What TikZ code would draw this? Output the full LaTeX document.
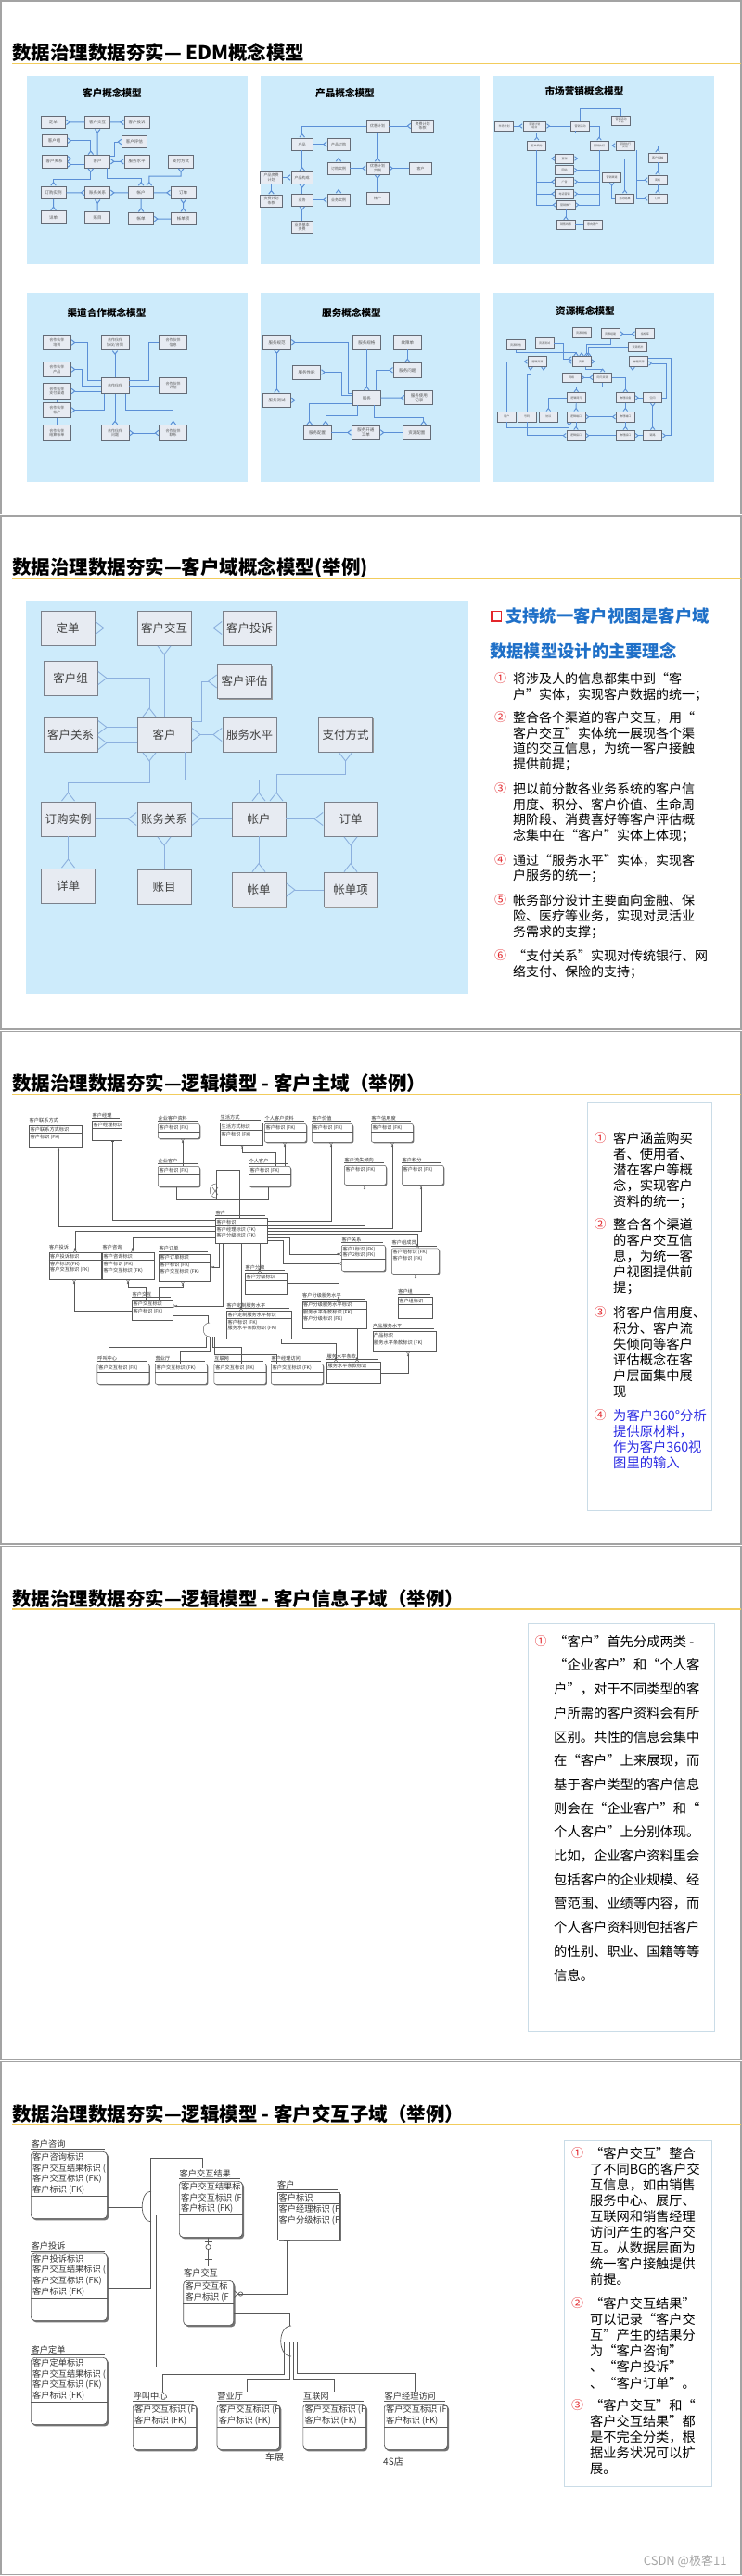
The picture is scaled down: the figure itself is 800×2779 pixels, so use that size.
\documentclass[tikz,border=0pt]{standalone}
\usepackage{fontspec}
\setmainfont{Noto Sans CJK SC}
\usetikzlibrary{arrows.meta,positioning,shadows}
\definecolor{panelblue}{HTML}{CDEBFB}
\definecolor{goldline}{HTML}{F2CC5C}
\definecolor{framegray}{HTML}{A3A3A3}
\definecolor{headblue}{HTML}{1F70C8}
\definecolor{numred}{HTML}{E3262B}
\definecolor{inkblue}{HTML}{2B2BE3}
\definecolor{boxfill}{HTML}{E7EBF2}
\definecolor{boxedge}{HTML}{646B76}
\definecolor{linkblue}{HTML}{5B8FD6}
\definecolor{softlink}{HTML}{8CB0DE}
\definecolor{noteedge}{HTML}{CADCE7}
\definecolor{ergray}{HTML}{585858}
\tikzset{
  slideframe/.style={draw=framegray, line width=1.5pt},
  slidetitle/.style={anchor=west, inner sep=0pt, font=\fontsize{20.5}{23}\selectfont\bfseries},
  goldrule/.style={draw=goldline, line width=1.2pt},
  paneltitle/.style={inner sep=0pt, font=\fontsize{10.6}{12}\selectfont\bfseries},
  mbox/.style={draw=boxedge, fill=boxfill, line width=0.7pt, inner sep=0.3pt, align=center, text=black!65, font=\fontsize{4}{4.4}\selectfont},
  bigbox/.style={draw=boxedge!85, fill=boxfill, line width=0.9pt, inner sep=1pt, text=black!75, font=\fontsize{12.5}{14}\selectfont, minimum width=58, minimum height=37, drop shadow={shadow xshift=1.2pt, shadow yshift=-1.2pt, fill=black!40, opacity=1}},
  note/.style={anchor=north west, align=left, inner sep=0pt, font=\fontsize{14}{16.8}\selectfont},
  num/.style={inner sep=0pt, text=numred, font=\fontsize{13}{14}\selectfont},
  notebox/.style={draw=noteedge, line width=0.8pt},
  entbox/.style={draw=ergray, fill=white, line width=0.5pt, inner sep=0pt, drop shadow={shadow xshift=1pt, shadow yshift=-1pt, fill=black!55, opacity=1}},
  entrow/.style={inner xsep=1.5pt, inner ysep=1.5pt, align=left, text=black!80, font=\fontsize{5.2}{6.6}\selectfont},
  entlab/.style={inner xsep=0.5pt, inner ysep=0.6pt, text=black!80, font=\fontsize{5.2}{6}\selectfont},
  entrule/.style={draw=ergray, line width=0.4pt},
  dep/.style={rounded corners=2pt},
  rel/.style={draw=ergray, line width=0.45pt},
  zm/.style={-{Circle[open,length=2.2pt,width=2.2pt]Straight Barb[reversed,length=2pt,width=3.4pt]}},
}
\newcommand\custmodel[1]{%
  \node[cbox] (#1dd) at (73,677.5) {定单};
  \node[cbox] (#1jh) at (177,677.5) {客户交互};
  \node[cbox] (#1ts) at (269,677.5) {客户投诉};
  \node[cbox] (#1kz) at (76,731.5) {客户组};
  \node[cbox] (#1pg) at (263.5,735) {客户评估};
  \node[cbox] (#1gx) at (76,792.5) {客户关系};
  \node[cbox] (#1kh) at (177,792.5) {客户};
  \node[cbox] (#1fw) at (269,792.5) {服务水平};
  \node[cbox] (#1zf) at (372.5,792.5) {支付方式};
  \node[cbox] (#1dg) at (73.5,883.5) {订购实例};
  \node[cbox] (#1zw) at (177,883.5) {账务关系};
  \node[cbox] (#1zh) at (279,883.5) {帐户};
  \node[cbox] (#1od) at (378,883.5) {订单};
  \node[cbox] (#1xd) at (73.5,955.5) {详单};
  \node[cbox] (#1zm) at (177,956.5) {账目};
  \node[cbox] (#1zd) at (279,960) {帐单};
  \node[cbox] (#1zx) at (378,960) {帐单项};
  \draw[<-] (#1dd) -- (#1jh);
  \draw[->] (#1jh) -- (#1ts);
  \draw[<-] (#1jh) -- (#1kh);
  \draw[<->] (#1kz.east) -| (#1kh.north -| 161,0);
  \draw[->] (#1kh.east |- 0,778) -- (217,778) |- (#1pg.west);
  \draw[<-] (#1gx.east |- 0,784.5) -- (#1kh.west |- 0,784.5);
  \draw[<-] (#1gx.east |- 0,801.5) -- (#1kh.west |- 0,801.5);
  \draw[<->] (#1kh) -- (#1fw);
  \draw[<->] (#1kh.south -| 161,0) -- (161,844.5) -| (#1dg.north);
  \draw[->] (#1kh.south -| 199,0) -- (199,841) -| (#1zh.north);
  \draw[<->] (#1zf.south) -- (372.5,835.5) -| (#1zh.north -| 298,0);
  \draw[->] (#1dg) -- (#1zw);
  \draw[<-] (#1zw) -- (#1zh);
  \draw[->] (#1zh) -- (#1od);
  \draw[->] (#1dg) -- (#1xd);
  \draw[<-] (#1zw) -- (#1zm);
  \draw[->] (#1zh) -- (#1zd);
  \draw[<->] (#1od) -- (#1zx);
  \draw[<-] (#1zd) -- (#1zx);
}
\newcommand\ent[8][]{%
  \node[entbox,#1,minimum width=#4,minimum height=#5,anchor=north west] (#2) at (#3) {};
  \draw[entrule] ([yshift=2.5pt]#2.north west) -- ([yshift=2.5pt,xshift=-3pt]#2.north east);
  \node[entlab,anchor=south west] at ([yshift=2.5pt]#2.north west) {#6};
  \node[entrow,anchor=north west] (#2k) at (#2.north west) {#7};
  \draw[entrule] (#2k.south -| #2.west) -- (#2k.south -| #2.east);
  \node[entrow,anchor=north west] at (#2k.south -| #2.west) {#8};
}

\begin{document}
\begin{tikzpicture}[x=1pt, y=-1pt]
\useasboundingbox (0,0) rectangle (800,2779);
\fill[white] (0,0) rectangle (800,2779);
\foreach \k in {0,...,4}
  \draw[slideframe] (1,{\k*555.8+1}) rectangle (799,{(\k+1)*555.8-1.5});
\foreach \k in {0,...,4}
  \draw[goldrule] (13,{\k*555.8+68.5}) -- (799,{\k*555.8+68.5});
\node[slidetitle] (t1) at (13,57) {数据治理数据夯实— EDM概念模型};
\node[slidetitle] (t2) at (13,612.8) {数据治理数据夯实—客户域概念模型(举例)};
\node[slidetitle] (t3) at (13,1168.6) {数据治理数据夯实—逻辑模型 - 客户主域（举例）};
\node[slidetitle] (t4) at (13,1724.4) {数据治理数据夯实—逻辑模型 - 客户信息子域（举例）};
\node[slidetitle] (t5) at (13,2280.2) {数据治理数据夯实—逻辑模型 - 客户交互子域（举例）};

\fill[panelblue] (29,82) rectangle (267,285);
\fill[panelblue] (281,82) rectangle (518,285);
\fill[panelblue] (532,82) rectangle (770,285);
\fill[panelblue] (29,316) rectangle (267,520);
\fill[panelblue] (281,316) rectangle (518,520);
\fill[panelblue] (532,316) rectangle (770,520);
\node[paneltitle] (p1) at (121,100) {客户概念模型};
\node[paneltitle] (p2) at (372,100) {产品概念模型};
\node[paneltitle] (p3) at (630,98) {市场营销概念模型};
\node[paneltitle] (p4) at (115,337) {渠道合作概念模型};
\node[paneltitle] (p5) at (379,337) {服务概念模型};
\node[paneltitle] (p6) at (631,335) {资源概念模型};

\begin{scope}[shift={(23.76,-118.2)}, xscale=0.46, yscale=0.369, draw=linkblue, line width=1pt,
  >={Straight Barb[reversed,length=3.5pt,width=5.5pt]},
  cbox/.style={mbox, font=\fontsize{4.5}{5}\selectfont, minimum width=26.7, minimum height=13.6}]
  \custmodel{m}
\end{scope}

\begin{scope}[draw=linkblue, line width=1pt, >={Straight Barb[reversed,length=3.5pt,width=5.5pt]},
  mbox/.append style={minimum width=23.7, minimum height=13}]
  \node[mbox] (yh) at (407,136) {优惠计划};
  \node[mbox] (zt) at (455.5,136) {资费计划\\条款};
  \node[mbox] (cp) at (325.7,155.5) {产品};
  \node[mbox] (dg) at (365,155.5) {产品订购};
  \node[mbox] (sl) at (365,181.5) {订购实例};
  \node[mbox] (ys) at (407,181.5) {优惠计划\\实例};
  \node[mbox] (kh) at (453.5,181.5) {客户};
  \node[mbox] (zj) at (292.5,191.5) {产品资费\\计划};
  \node[mbox] (gc) at (325.7,191.5) {产品构成};
  \node[mbox] (zk) at (292.5,216.5) {资费计划\\条款};
  \node[mbox] (yw) at (325.7,215.5) {业务};
  \node[mbox] (ws) at (365,215.5) {业务实例};
  \node[mbox] (zh) at (407,213.5) {帐户};
  \node[mbox] (jb) at (325.7,245) {业务基本\\资费};
  \draw[->] (yh.west) -| (cp.north);
  \draw[->] (yh) -- (zt);
  \draw[->] (yh) -- (ys);
  \draw[->] (cp) -- (dg);
  \draw[->] (dg) -- (sl);
  \draw[->] (sl) -- (ys);
  \draw[->] (kh) -- (ys);
  \draw[->] (zh) -- (ys);
  \draw[->] (cp) -- (gc);
  \draw[->] (zj) -- (gc);
  \draw[->] (zj) -- (zk);
  \draw[->] (yw) -- (gc);
  \draw[->] (yw) -- (ws);
  \draw[->] (sl) -- (ws);
  \draw[->] (jb) -- (yw);
\end{scope}

\begin{scope}[draw=linkblue, line width=0.9pt, >={Straight Barb[reversed,length=3pt,width=4.5pt]},
  mbox/.append style={minimum width=20, minimum height=10, font=\fontsize{3}{3.4}\selectfont}]
  \node[mbox] (sj) at (543.7,136) {市场计划};
  \node[mbox, minimum width=24.7] (mx) at (576.3,136) {营销计划\\组合};
  \node[mbox] (hd) at (625.5,136) {营销活动};
  \node[mbox] (pg) at (669.7,130) {营销活动\\评估};
  \node[mbox] (xf) at (578.7,157) {客户细分};
  \node[mbox] (zx2) at (646,157) {营销执行};
  \node[mbox] (fk) at (674,157) {营销执行\\反馈};
  \node[mbox] (zx) at (608.7,171) {直销};
  \node[mbox] (wz) at (608.7,183.7) {网站};
  \node[mbox] (gg) at (608.7,196) {广告};
  \node[mbox] (dh) at (608.7,209) {电话营销};
  \node[mbox] (tg) at (610,221) {营销推广};
  \node[mbox] (qd) at (659.7,191.5) {营销渠道};
  \node[mbox] (jg) at (673.7,214) {活动结果};
  \node[mbox] (jc) at (709,170) {客户接触};
  \node[mbox] (sji) at (709,194) {商机};
  \node[mbox] (dd) at (709,214) {订单};
  \node[mbox] (xs) at (610,242.7) {销售线索};
  \node[mbox] (yx) at (639,242.7) {意向客户};
  \draw[->] (sj) -- (mx);
  \draw[->] (hd) -- (mx);
  \draw (hd.north) -- (625.5,117.7) -| (pg.north);
  \draw[->] (hd.south -| 620,0) -- (620,143.7) -| (xf.north);
  \draw[->] (hd.east) -| (zx2.north);
  \draw[->] (zx2) -- (fk);
  \draw[->] (fk.east) -| (jc.north);
  \draw[->] (jc) -- (sji);
  \draw[->] (sji) -- (dd);
  \draw[->] (fk.south -| 686,0) |- (sji.west);
  \draw[->] (fk.south -| 686,0) |- (dd.west);
  \draw[->] (xf.south) |- (zx.west);
  \draw[->] (xf.south) |- (gg.west);
  \draw[->] (xf.south) |- (dh.west);
  \draw[->] (xf.south) |- (tg.west);
  \draw[->] (zx2.south) |- (zx.east);
  \draw[->] (zx2.south) |- (wz.east);
  \draw[->] (zx2.south) |- (gg.east);
  \draw[->] (zx2.south) |- (dh.east);
  \draw[->] (zx2.south) |- (tg.east);
  \draw[->] (zx.east) -| (jg.north);
  \draw[<-] (qd.south) |- (jg.west);
  \draw[->] (tg) -- (xs);
  \draw (xs) -- (yx);
\end{scope}

\begin{scope}[draw=linkblue, line width=1pt, >={Straight Barb[reversed,length=3.5pt,width=5.5pt]},
  mbox/.append style={minimum width=30, minimum height=16.5}]
  \node[mbox] (px) at (61.3,369.5) {合作伙伴\\培训};
  \node[mbox] (xy) at (124,369.5) {合作伙伴\\协议/合同};
  \node[mbox] (xx) at (186.7,369.5) {合作伙伴\\信息};
  \node[mbox] (cpin) at (61.3,398.5) {合作伙伴\\产品};
  \node[mbox] (hb) at (124,416) {合作伙伴};
  \node[mbox] (hpg) at (186.7,416) {合作伙伴\\评估};
  \node[mbox] (zf) at (61.3,422) {合作伙伴\\支付渠道};
  \node[mbox] (hzh) at (61.3,442.5) {合作伙伴\\帐户};
  \node[mbox] (js) at (61.3,467) {合作伙伴\\结算帐单};
  \node[mbox] (wt) at (124,467) {合作伙伴\\问题};
  \node[mbox] (lx) at (186.7,467) {合作伙伴\\联系};
  \draw[<-] (px.east) -| (94,410.3) -- (hb.west |- 0,410.3);
  \draw[<-] (xy) -- (hb);
  \draw (xx.west) -| (160,410.3) -- (hb.east |- 0,410.3);
  \draw[<-] (cpin.east) -| (88.3,416.7) -- (hb.west |- 0,416.7);
  \draw (hb) -- (hpg);
  \draw[<-] (zf.east) -- (hb.west |- zf.east);
  \draw[<-] (hzh.east) -| (hb.south -| 112.3,0);
  \draw[<-] (wt) -- (hb);
  \draw[->] (hb.south -| 135,0) -- (135,442) -| (lx.north);
  \draw[<->] (wt) -- (lx);
  \draw (zf) -- (hzh);
  \draw (hzh) -- (js);
\end{scope}

\begin{scope}[draw=linkblue, line width=1pt, >={Straight Barb[reversed,length=3.5pt,width=5.5pt]},
  mbox/.append style={minimum width=30, minimum height=15.3, font=\fontsize{4.5}{5}\selectfont}]
  \node[mbox] (gf) at (298.5,369.3) {服务规范};
  \node[mbox] (fg) at (395.3,369.3) {服务规格};
  \node[mbox] (gz) at (439.3,369.3) {故障单};
  \node[mbox] (xn) at (330.7,401.5) {服务性能};
  \node[mbox] (fwt) at (439.3,399.3) {服务问题};
  \node[mbox] (cs) at (298.5,431.8) {服务测试};
  \node[mbox] (fw) at (395.3,429.3) {服务};
  \node[mbox] (jl) at (451.8,429) {服务使用\\记录};
  \node[mbox] (pz) at (342,466.5) {服务配置};
  \node[mbox] (gd) at (394.3,466.5) {服务开通\\工单};
  \node[mbox] (zy) at (449.3,466.5) {资源配置};
  \draw[<-] (gf.east) -| (375.3,424) -- (fw.west |- 0,424);
  \draw[<->] (gf) -- (cs);
  \draw[->] (fg) -- (fw);
  \draw[->] (gz) -- (fwt);
  \draw[<-] (xn.east) -| (368.3,426.5) -- (fw.west |- 0,426.5);
  \draw[<-] (fwt.west) -| (fw.north -| 405,0);
  \draw[<-] (cs.east |- 0,431.7) -- (fw.west |- 0,431.7);
  \draw[->] (fw) -- (jl);
  \draw[->] (fw.west |- 0,435) -| (pz.north -| 333.7,0);
  \draw[->] (fw.south -| 385,0) -- (385,448.3) -| (pz.north -| 351,0);
  \draw[->] (fw.south -| 403,0) -- (403,450.3) -| (zy.north -| 456.7,0);
  \draw[->] (pz) -- (gd);
  \draw[->] (zy) -- (gd);
\end{scope}

\begin{scope}[draw=linkblue, line width=0.9pt, >={Straight Barb[reversed,length=3pt,width=4.5pt]},
  mbox/.append style={minimum width=20, minimum height=10.7, font=\fontsize{3}{3.4}\selectfont}]
  \node[mbox] (rg) at (627,359) {资源规格};
  \node[mbox] (rz) at (658,360) {资源组建};
  \node[mbox] (rb) at (695.3,360) {指标库};
  \node[mbox] (rt) at (556,372) {资源特性};
  \node[mbox] (rc) at (587,370) {资源测试};
  \node[mbox] (rp) at (687.7,374.3) {资源拓扑};
  \node[mbox] (lj) at (579.3,390) {逻辑资源};
  \node[mbox] (ry) at (627,390) {资源};
  \node[mbox] (wl) at (688.7,390) {物理资源};
  \node[mbox] (wn) at (616,407.3) {网络};
  \node[mbox] (wy) at (649.7,407.3) {网元资源};
  \node[mbox] (ljwy) at (621.3,429) {逻辑网元};
  \node[mbox] (wlsb) at (674.3,429) {物理设备};
  \node[mbox] (kj) at (703.7,429) {空间};
  \node[mbox] (zyh) at (546.3,449.7) {租户};
  \node[mbox] (hm) at (568,449.7) {号码};
  \node[mbox] (xy2) at (591.3,449.7) {协议};
  \node[mbox] (ljdk) at (621,449.7) {逻辑端口};
  \node[mbox] (wldk) at (674.3,449.7) {物理端口};
  \node[mbox] (ljjk) at (621,469.7) {逻辑接口};
  \node[mbox] (wljk) at (674.3,469.7) {物理接口};
  \node[mbox] (ll) at (703.7,469.7) {链路};
  \draw[->] (rg) -- (ry);
  \draw[->] (rz.south) -- (658,371) -| (ry.north -| 632.7,0);
  \draw[<->] (rz) -- (rb);
  \draw[->] (rc.east) -| (607,387) -- (ry.west |- 0,387);
  \draw[->] (rt.south) -- (556,380) -| (ry.north -| 621,0);
  \draw[->] (rp.west) -| (ry.north -| 634.5,0);
  \draw[->] (lj) -- (ry);
  \draw[->] (wl) -- (ry);
  \draw[<->] (wn) -- (wy);
  \draw[->] (ry.south -| 631,0) -- (631,398) -| (wy.north);
  \draw[->] (wy.south) -- (649.7,417.7) -| (ljwy.north);
  \draw[->] (wy.east) -| (wlsb.north);
  \draw[->] (wlsb.north -| 682,0) -- (wl.south -| 682,0);
  \draw[<-] (wlsb) -- (kj);
  \draw[->] (kj.east) -| (718.7,392) -- (wl.east |- 0,392);
  \draw[<->] (kj) -- (ll);
  \draw[->] (zyh.north) |- (lj.west);
  \draw[->] (hm.north) -- (568,404) -| (lj.south -| 572,0);
  \draw[->] (xy2.north -| 586,0) -- (lj.south -| 586,0);
  \draw[->] (ljwy.west) -| (xy2.north);
  \draw[->] (ljwy) -- (ljdk);
  \draw[->] (ljdk) -- (ljjk);
  \draw[->] (wlsb) -- (wldk);
  \draw[->] (wldk) -- (wljk);
  \draw[<->] (ljdk) -- (wldk);
  \draw[->] (wljk) -- (ljjk);
  \draw[->] (ll) -- (wljk);
  \draw[->] (wl.east |- 0,386) -| (ll.east -| 723.7,0) -- (ll.east);
  \draw[->] (zyh.south) |- (613.7,461.7) -- (ljdk.south -| 613.7,0);
  \draw[->] (hm.south) |- (ljjk.west);
\end{scope}

\fill[panelblue] (28,648) rectangle (505,1072);
\begin{scope}[draw=softlink, line width=0.9pt, >={Straight Barb[reversed,length=9pt,width=14pt]}, cbox/.style={bigbox}]
  \custmodel{k}
\end{scope}
\draw[numred, line width=1.8pt] (530,659.5) rectangle (540.5,670);
\node[anchor=west, inner sep=0pt, text=headblue, font=\fontsize{18.3}{20}\selectfont\bfseries] (h1) at (545,665) {支持统一客户视图是客户域};
\node[anchor=west, inner sep=0pt, text=headblue, font=\fontsize{18.3}{20}\selectfont\bfseries] (h2) at (528,702) {数据模型设计的主要理念};
\node[num] at (539.5,732) {①};
\node[note] (a1) at (553,725.3) {将涉及人的信息都集中到“客\\户”实体，实现客户数据的统一；};
\node[num] at (539.5,774) {②};
\node[note] (a2) at (553,767.3) {整合各个渠道的客户交互，用“\\客户交互”实体统一展现各个渠\\道的交互信息，为统一客户接触\\提供前提；};
\node[num] at (539.5,851) {③};
\node[note] (a3) at (553,844.3) {把以前分散各业务系统的客户信\\用度、积分、客户价值、生命周\\期阶段、消费喜好等客户评估概\\念集中在“客户”实体上体现；};
\node[num] at (539.5,927.7) {④};
\node[note] (a4) at (553,921) {通过“服务水平”实体，实现客\\户服务的统一；};
\node[num] at (539.5,971) {⑤};
\node[note] (a5) at (553,964.3) {帐务部分设计主要面向金融、保\\险、医疗等业务，实现对灵活业\\务需求的支撑；};
\node[num] at (539.5,1031) {⑥};
\node[note] (a6) at (553,1024.3) {“支付关系”实现对传统银行、网\\络支付、保险的支持；};

\ent{lx}{31,1214}{57}{23}{客户联系方式}{客户联系方式标识}{客户标识 (FK)}
\ent{jl}{99,1209}{32}{21}{客户经理}{客户经理标识}{}
\ent[dep]{qz}{170,1212}{45}{16}{企业客户资料}{客户标识 (FK)}{}
\ent{sh}{237,1211}{46}{23.5}{生活方式}{生活方式标识}{客户标识 (FK)}
\ent[dep]{gz}{285,1212}{45}{20}{个人客户资料}{客户标识 (FK)}{}
\ent[dep]{jz}{336,1212}{44}{20}{客户价值}{客户标识 (FK)}{}
\ent[dep]{xy}{400,1212}{45}{20}{客户信用度}{客户标识 (FK)}{}
\ent[dep]{qy}{170,1258}{45}{22}{企业客户}{客户标识 (FK)}{}
\ent[dep]{gr}{268,1258}{45}{22}{个人客户}{客户标识 (FK)}{}
\ent[dep]{ls}{371,1257}{45}{21}{客户流失倾向}{客户标识 (FK)}{}
\ent[dep]{jf}{433,1257}{45}{21}{客户积分}{客户标识 (FK)}{}
\ent{kh}{232,1314}{56}{27}{客户}{客户标识}{客户经理标识 (FK)\\客户分级标识 (FK)}
\ent{ts}{52.5,1351}{56}{29}{客户投诉}{客户投诉标识}{客户标识 (FK)\\客户交互标识 (FK)}
\ent{zx}{110,1351}{56}{29}{客户咨询}{客户咨询标识}{客户标识 (FK)\\客户交互标识 (FK)}
\ent{dd}{171,1352.6}{55}{29.5}{客户订单}{客户订单标识}{客户标识 (FK)\\客户交互标识 (FK)}
\ent{jh}{142,1402}{44}{21.5}{客户交互}{客户交互标识}{客户标识 (FK)}
\ent{fj}{264,1373}{45}{23}{客户分级}{客户分级标识}{}
\ent{dz}{244,1414}{70}{29.5}{客户定制服务水平}{客户定制服务水平标识}{客户标识 (FK)\\服务水平条款标识 (FK)}
\ent{fs}{325.5,1403.5}{69.5}{29}{客户分级服务水平}{客户分级服务水平标识}{服务水平条款标识 (FK)\\客户分级标识 (FK)}
\ent[dep]{gx}{368,1343}{47}{28}{客户关系}{客户1标识 (FK)\\客户2标识 (FK)}{}
\ent[dep]{cy}{422,1346.5}{51}{27.5}{客户组成员}{客户组标识 (FK)\\客户标识 (FK)}{}
\ent{kz}{428.6,1399}{37.4}{23}{客户组}{客户组标识}{}
\ent{cp3}{401.5,1436}{68.5}{22}{产品服务水平}{产品标识}{服务水平条款标识 (FK)}
\ent{tk}{352,1469}{58}{23}{服务水平条款}{服务水平条款标识}{}
\ent[dep]{hj}{104.6,1471}{56}{22}{呼叫中心}{客户交互标识 (FK)}{}
\ent[dep]{yy}{167,1471}{56}{22}{营业厅}{客户交互标识 (FK)}{}
\ent[dep]{hl}{230.6,1471}{56}{22}{互联网}{客户交互标识 (FK)}{}
\ent[dep]{jv}{292,1471}{56}{22}{客户经理访问}{客户交互标识 (FK)}{}
\draw[rel, zm] (kh.west |- 0,1323) -| (lx.south -| 63,0);
\draw[rel, -{Bar[width=3.4pt]}] (kh.west |- 0,1316) -| (jl.south -| 121.7,0);
\draw[rel, zm] (kh.west |- 0,1328) -| (ts.north -| 81,0);
\draw[rel, zm] (kh.west |- 0,1335) -| (zx.north -| 143,0);
\draw[rel, zm] (kh.south -| 236,0) |- (dd.east |- 0,1367);
\draw[rel, zm] (jh.west |- 0,1414) -| (ts.south -| 80,0);
\draw[rel, zm] (jh.north -| 157,0) -- (157,1388) -| (zx.south -| 138,0);
\draw[rel, zm] (jh.north -| 171,0) -- (171,1388) -| (dd.south -| 197,0);
\draw[rel, zm] (kh.south -| 240,0) |- (jh.east |- 0,1409);
\draw[rel, zm] (kh.south -| 260,0) -- (dz.north -| 260,0);
\draw[rel, zm] (kh.south -| 280,0) -- (fj.north -| 280,0);
\draw[rel, zm] (fj.east |- 0,1384) -| (fs.north -| 365,0);
\draw[rel, zm] (fs.south -| 385,0) -- (tk.north -| 385,0);
\draw[rel, zm] (dz.south -| 303,0) -- (303,1449) -| (tk.north -| 362,0);
\draw[rel, zm] (tk.east |- 0,1481) -| (cp3.south -| 440,0);
\draw[rel, zm] (kh.east |- 0,1317) -| (jz.south -| 357,0);
\draw[rel, zm] (kh.east |- 0,1322) -| (ls.south -| 393,0);
\draw[rel, zm] (kh.east |- 0,1325) -| (xy.south -| 423,0);
\draw[rel, zm] (kh.east |- 0,1328) -| (jf.south -| 454,0);
\draw[rel, zm] (kh.east |- 0,1331) -| (cy.north -| 450,0);
\draw[rel, zm] (kh.east |- 0,1335) -- (312,1335) |- (gx.west |- 0,1353);
\draw[rel, zm] (kh.east |- 0,1338) -- (305,1338) |- (gx.west |- 0,1363);
\draw[rel, zm] (kz.north -| 448,0) -- (cy.south -| 448,0);
\draw[rel, zm] (qy.north -| 197,0) -- (qz.south -| 197,0);
\draw[rel, zm] (gr.north -| 307,0) -- (gz.south -| 307,0);
\draw[rel, zm] (gr.north -| 297,0) -- (297,1243.6) -| (sh.south -| 261,0);
\draw[rel] (qy.south -| 190,0) |- (289,1294.5) -- (gr.south -| 289,0);
\draw[rel] (kh.north -| 258,0) |- (233,1262) -- (233,1294.5);
\draw[rel] (233,1277) .. controls (224,1277) and (224,1292) .. (233,1292);
\draw[rel] (229,1281) -- (235,1289) (229,1289) -- (235,1281);
\draw[rel] (jh.east |- 0,1419) -| (224,1427);
\draw[rel] (226,1427) .. controls (217,1427) and (217,1442) .. (226,1442);
\draw[rel] (222,1442) -- (222,1453) -| (hj.north -| 117,0);
\draw[rel] (226,1442) -- (226,1458) -| (yy.north -| 194,0);
\draw[rel] (229,1442) -- (229,1453) -| (hl.north -| 260,0);
\draw[rel] (231,1442) -- (231,1461) -| (jv.north -| 298,0);
\draw[notebox] (633,1189) rectangle (767,1629);
\begin{scope}[note/.append style={font=\fontsize{14.3}{17}\selectfont}]
  \node[num] at (647,1228) {①};
  \node[note] (b1) at (661,1221.2) {客户涵盖购买\\者、使用者、\\潜在客户等概\\念，实现客户\\资料的统一；};
  \node[num] at (647,1321) {②};
  \node[note] (b2) at (661,1314.2) {整合各个渠道\\的客户交互信\\息，为统一客\\户视图提供前\\提；};
  \node[num] at (647,1416) {③};
  \node[note] (b3) at (661,1409.2) {将客户信用度、\\积分、客户流\\失倾向等客户\\评估概念在客\\户层面集中展\\现};
  \node[num] at (647,1527) {④};
  \node[note, text=inkblue] (b4) at (661,1520.2) {为客户360°分析\\提供原材料，\\作为客户360视\\图里的输入};
\end{scope}

\draw[notebox] (569,1751) rectangle (770,2191);
\node[num] at (583,1770.7) {①};
\node[note, font=\fontsize{14.3}{25.7}\selectfont] (c1) at (597,1763.9) {“客户”首先分成两类 -\\“企业客户”和“个人客\\户”，对于不同类型的客\\户所需的客户资料会有所\\区别。共性的信息会集中\\在“客户”上来展现，而\\基于客户类型的客户信息\\则会在“企业客户”和“\\个人客户”上分别体现。\\比如，企业客户资料里会\\包括客户的企业规模、经\\营范围、业绩等内容，而\\个人客户资料则包括客户\\的性别、职业、国籍等等\\信息。};

\begin{scope}[entrow/.style={inner xsep=2pt, inner ysep=1.5pt, align=left, text=black!80, font=\fontsize{9.2}{11.7}\selectfont},
  entlab/.style={inner xsep=0.5pt, inner ysep=0.8pt, text=black!80, font=\fontsize{9.2}{10}\selectfont},
  entbox/.append style={line width=0.7pt, drop shadow={shadow xshift=1.8pt, shadow yshift=-2pt, fill=black!55, opacity=1}},
  dep/.style={rounded corners=4pt}, rel/.style={draw=ergray, line width=0.7pt}]
  \ent[dep]{zx5}{33,2321}{82}{72}{客户咨询}{客户咨询标识\\客户交互结果标识 (\\客户交互标识 (FK)\\客户标识 (FK)}{}
  \ent[dep]{ts5}{33,2430.6}{82}{72.4}{客户投诉}{客户投诉标识\\客户交互结果标识 (\\客户交互标识 (FK)\\客户标识 (FK)}{}
  \ent[dep]{dd5}{33,2543}{82}{72}{客户定单}{客户定单标识\\客户交互结果标识 (\\客户交互标识 (FK)\\客户标识 (FK)}{}
  \ent[dep]{jg5}{193,2353}{68}{60}{客户交互结果}{客户交互结果标\\客户交互标识 (F\\客户标识 (FK)}{}
  \ent{kh5}{298.5,2365}{67.5}{51}{客户}{客户标识}{客户经理标识 (F\\客户分级标识 (F}
  \ent[dep]{jh5}{197.4,2460}{54}{48}{客户交互}{客户交互标\\客户标识 (F}{}
  \ent[dep]{hj5}{143,2593}{68}{49}{呼叫中心}{客户交互标识 (F\\客户标识 (FK)}{}
  \ent[dep]{yy5}{233.7,2593}{67.5}{49}{营业厅}{客户交互标识 (F\\客户标识 (FK)}{}
  \ent[dep]{hl5}{326.5,2593}{67.5}{49}{互联网}{客户交互标识 (F\\客户标识 (FK)}{}
  \ent[dep]{jv5}{414,2593}{68}{49}{客户经理访问}{客户交互标识 (F\\客户标识 (FK)}{}
  \draw[rel] (zx5.east |- 0,2381) -- (153,2381);
  \draw[rel] (163,2364) .. controls (150,2364) and (150,2397) .. (163,2397);
  \draw[rel] (218,2339) |- (162,2328) |- (ts5.east |- 0,2468);
  \draw[rel] (168,2390) |- (dd5.east |- 0,2553);
  \draw[rel] (jg5.south -| 224.5,0) -- (224.5,2445);
  \draw[rel, fill=white] (224.5,2424) circle[radius=2.6];
  \draw[rel] (220.5,2418) -- (228.5,2418) (220.5,2437) -- (228.5,2437);
  \draw[rel, {Bar[width=7pt]}-{Circle[open,length=5pt,width=5pt]Straight Barb[reversed,length=4pt,width=7pt]}] (kh5.south -| 309.7,0) |- (jh5.east |- 0,2475);
  \draw[rel] (jh5.east |- 0,2495) -| (312,2509);
  \draw[rel] (314,2509) .. controls (299,2509) and (299,2542) .. (314,2542);
  \draw[rel] (306,2527) |- (175,2561) -- (175,2580);
  \draw[rel] (312,2527) |- (266,2567.5) -- (266,2580);
  \draw[rel] (316,2527) |- (360,2567.5) -- (360,2580);
  \draw[rel] (320,2527) |- (447,2560) -- (447,2580);
  \node[font=\fontsize{10}{11}\selectfont, text=black!80] (cz) at (296,2651) {车展};
  \node[font=\fontsize{10}{11}\selectfont, text=black!80] (sd) at (424,2656) {4S店};
\end{scope}
\draw[notebox] (608,2309) rectangle (767,2682);
\begin{scope}[note/.append style={font=\fontsize{14.2}{17.1}\selectfont}]
  \node[num] at (622.5,2322.5) {①};
  \node[note] (d1) at (636,2315.8) {“客户交互”整合\\了不同BG的客户交\\互信息，如由销售\\服务中心、展厅、\\互联网和销售经理\\访问产生的客户交\\互。从数据层面为\\统一客户接触提供\\前提。};
  \node[num] at (622.5,2485) {②};
  \node[note] (d2) at (636,2478.3) {“客户交互结果”\\可以记录“客户交\\互”产生的结果分\\为“客户咨询”\\、“客户投诉”\\、“客户订单”。};
  \node[num] at (622.5,2595) {③};
  \node[note] (d3) at (636,2588.3) {“客户交互”和“\\客户交互结果”都\\是不完全分类，根\\据业务状况可以扩\\展。};
\end{scope}
\node[anchor=east, text=black!35, font=\fontsize{13}{14}\selectfont] (wm) at (787,2763) {CSDN @极客11};
\end{tikzpicture}
\end{document}
